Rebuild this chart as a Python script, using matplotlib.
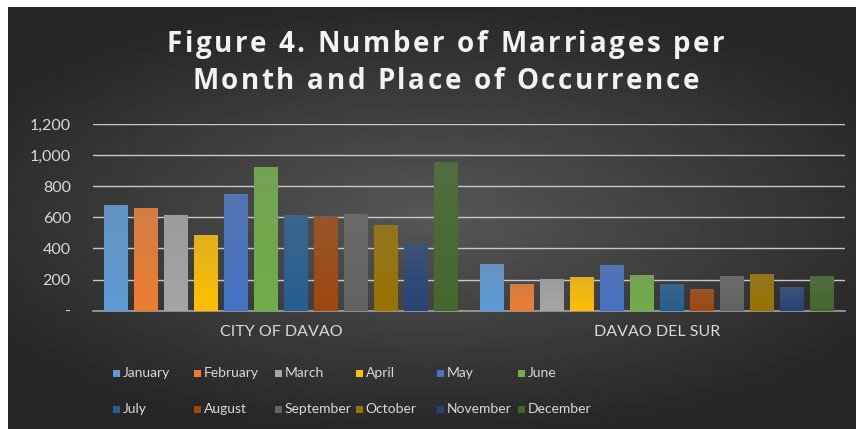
import numpy as np
import matplotlib
matplotlib.use("Agg")
import matplotlib.pyplot as plt
from matplotlib.colors import to_rgb
from matplotlib.patches import Rectangle
from matplotlib.ticker import FuncFormatter

# === Daten ===
places = ["CITY OF DAVAO", "DAVAO DEL SUR"]
months = ["January", "February", "March", "April", "May", "June",
          "July", "August", "September", "October", "November", "December"]
city_of_davao = [677, 660, 617, 484, 750, 921, 615, 600, 621, 551, 429, 958]
davao_del_sur = [300, 174, 202, 216, 294, 227, 174, 141, 223, 234, 154, 223]
colors = ["#5B9BD5", "#ED7D31", "#A5A5A5", "#FFC000", "#4472C4", "#70AD47",
          "#255E91", "#9E480E", "#636363", "#997300", "#264478", "#43682B"]
yticks = [0, 200, 400, 600, 800, 1000, 1200]
title_lines = ["Figure 4. Number of Marriages per", "Month and Place of Occurrence"]

plt.rcParams['font.family'] = ['Lato', 'DejaVu Sans']

W, H = 856, 429
fig = plt.figure(figsize=(W / 100, H / 100), dpi=100)
fig.patch.set_facecolor("white")

# === Hintergrund (radialer Verlauf) ===
bg = fig.add_axes([8 / W, 0, 848 / W, 422 / H], zorder=-10)
yy, xx = np.mgrid[-1:1:200j, -1:1:400j]
r = np.sqrt((xx * 0.85) ** 2 + (yy * 1.0) ** 2)
shade = np.clip(0.34 - 0.18 * r, 0.15, 0.34)
bg.imshow(shade, cmap="gray", vmin=0, vmax=1, aspect="auto", extent=[0, 1, 0, 1])
bg.set_axis_off()

# === Balkendiagramm ===
ax = fig.add_axes([93 / W, 118.3 / H, 752 / W, 186.7 / H])
ax.patch.set_alpha(0)

x = np.arange(len(places))
slot = 30 / 376
width = 24 / 376
data = np.array([city_of_davao, davao_del_sur])

for i, m in enumerate(months):
    offs = (i - 5.5) * slot
    bars = ax.bar(x + offs, data[:, i], width, color=colors[i], zorder=3)
    # leichter Farbverlauf in jedem Balken
    c = np.array(to_rgb(colors[i]))
    grad = np.linspace(1, 0, 50)[:, None, None]
    img = c * (0.88 + 0.12 * (1 - grad)) + (1 - c) * 0.12 * grad
    img = np.clip(np.repeat(img, 2, axis=1), 0, 1)
    for b in bars:
        im = ax.imshow(img, extent=[b.get_x(), b.get_x() + b.get_width(), 0, b.get_height()],
                       aspect="auto", zorder=4)
        im.set_clip_path(b)

ax.set_xlim(-0.5, 1.5)
ax.set_ylim(0, 1200)
ax.set_yticks(yticks)
ax.yaxis.set_major_formatter(FuncFormatter(lambda v, p: "-" if v == 0 else f"{int(v):,}"))
ax.set_xticks(x)
ax.set_xticklabels(places)
ax.tick_params(length=0, colors="#d9d9d9", labelsize=11.5)
ax.tick_params(axis="x", pad=10)
ax.tick_params(axis="y", pad=16)
ax.grid(axis="y", color="#c8c8c8", linewidth=1.0, zorder=0)
for s in ["top", "right", "left"]:
    ax.spines[s].set_visible(False)
ax.spines["bottom"].set_color("#a0a0a0")
ax.spines["bottom"].set_linewidth(1.2)

# === Titel mit Zeichenabstand ===
renderer = fig.canvas.get_renderer()
tkw = dict(color="#f2f2f2", fontsize=20, fontweight="bold", family=["Open Sans", "DejaVu Sans"])


def text_width(s):
    t = fig.text(0, 0, s + "|", **tkw)
    w = t.get_window_extent(renderer).width
    t.remove()
    return w


bar_w = text_width("")
spacing = 2.6
for line, y_base in zip(title_lines, [52, 89]):
    prefix = [text_width(line[:k]) - bar_w for k in range(len(line) + 1)]
    total = prefix[-1] + spacing * (len(line) - 1)
    x_start = 445.5 - total / 2
    for k, ch in enumerate(line):
        if ch == " ":
            continue
        fig.text((x_start + prefix[k] + spacing * k) / W, 1 - y_base / H, ch,
                 ha="left", va="baseline", **tkw)

# === Legende (2 Zeilen, feste Spaltenbreite) ===
for i, m in enumerate(months):
    col, row = i % 6, i // 6
    x0 = 112.7 + 81 * col
    yc = 373 + 36 * row
    fig.patches.append(Rectangle((x0 / W, 1 - (yc + 3.5) / H), 7 / W, 7 / H,
                                 transform=fig.transFigure, facecolor=colors[i],
                                 edgecolor="none"))
    fig.text((x0 + 10) / W, 1 - yc / H, m, ha="left", va="center",
             color="#d9d9d9", fontsize=10)

fig.savefig("out.png", dpi=100)
